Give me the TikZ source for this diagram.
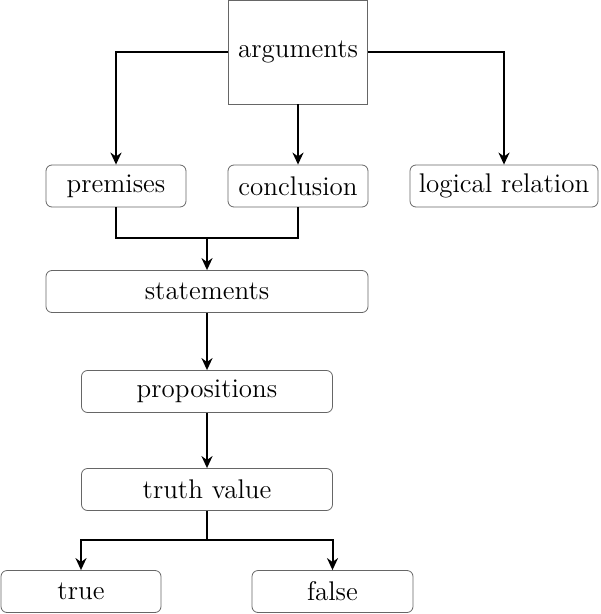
\documentclass[tikz,border=0pt]{standalone}
\usepackage{tikz}
\usetikzlibrary{arrows.meta,positioning}
\tikzset{
  item/.style={draw=black!60, rectangle, rounded corners=3pt, align=center, minimum height=21pt, inner sep=2pt, font=\fontsize{13.5}{15}\selectfont},
  topitem/.style={draw=black!60, rectangle, align=center, minimum width=69.5pt, minimum height=52pt, font=\fontsize{13.5}{15}\selectfont},
  arrow/.style={line width=1pt, -{Stealth[length=6pt,width=5.5pt]}},
  link/.style={line width=1pt}
}
\begin{document}
\begin{tikzpicture}[x=0.5pt, y=-0.5pt]
    \useasboundingbox (0,0) rectangle (600,614);
    % nodes
    \node (arguments)   [topitem] at (298,52) {arguments};
    \node (premises)    [item, minimum width=70pt] at (116,186) {premises};
    \node (conclusion)  [item, minimum width=70pt] at (298,186) {conclusion};
    \node (logical)     [item, minimum width=94pt] at (504,186) {logical relation};
    \node (statements)  [item, minimum width=161pt] at (207,291.5) {statements};
    \node (propositions)[item, minimum width=125.5pt] at (207,391.5) {propositions};
    \node (truthvalue)  [item, minimum width=125.5pt] at (207,489.5) {truth value};
    \node (true)        [item, minimum width=80pt] at (81,591.5) {true};
    \node (false)       [item, minimum width=80.5pt] at (332.5,591.5) {false};
    \coordinate (join)  at (207,238);
    \coordinate (split) at (207,540);
    % arrows
    \draw [arrow] (arguments.west) -| (premises.north);
    \draw [arrow] (arguments.east) -| (logical.north);
    \draw [arrow] (arguments.south) -- (conclusion.north);
    \draw [link] (premises.south) |- (join) -| (conclusion.south);
    \draw [arrow] (join) -- (statements.north);
    \draw [arrow] (statements) -- (propositions);
    \draw [arrow] (propositions) -- (truthvalue);
    \draw [link] (truthvalue.south) -- (split);
    \draw [arrow] (split) -| (true.north);
    \draw [arrow] (split) -| (false.north);
\end{tikzpicture}
\end{document}
